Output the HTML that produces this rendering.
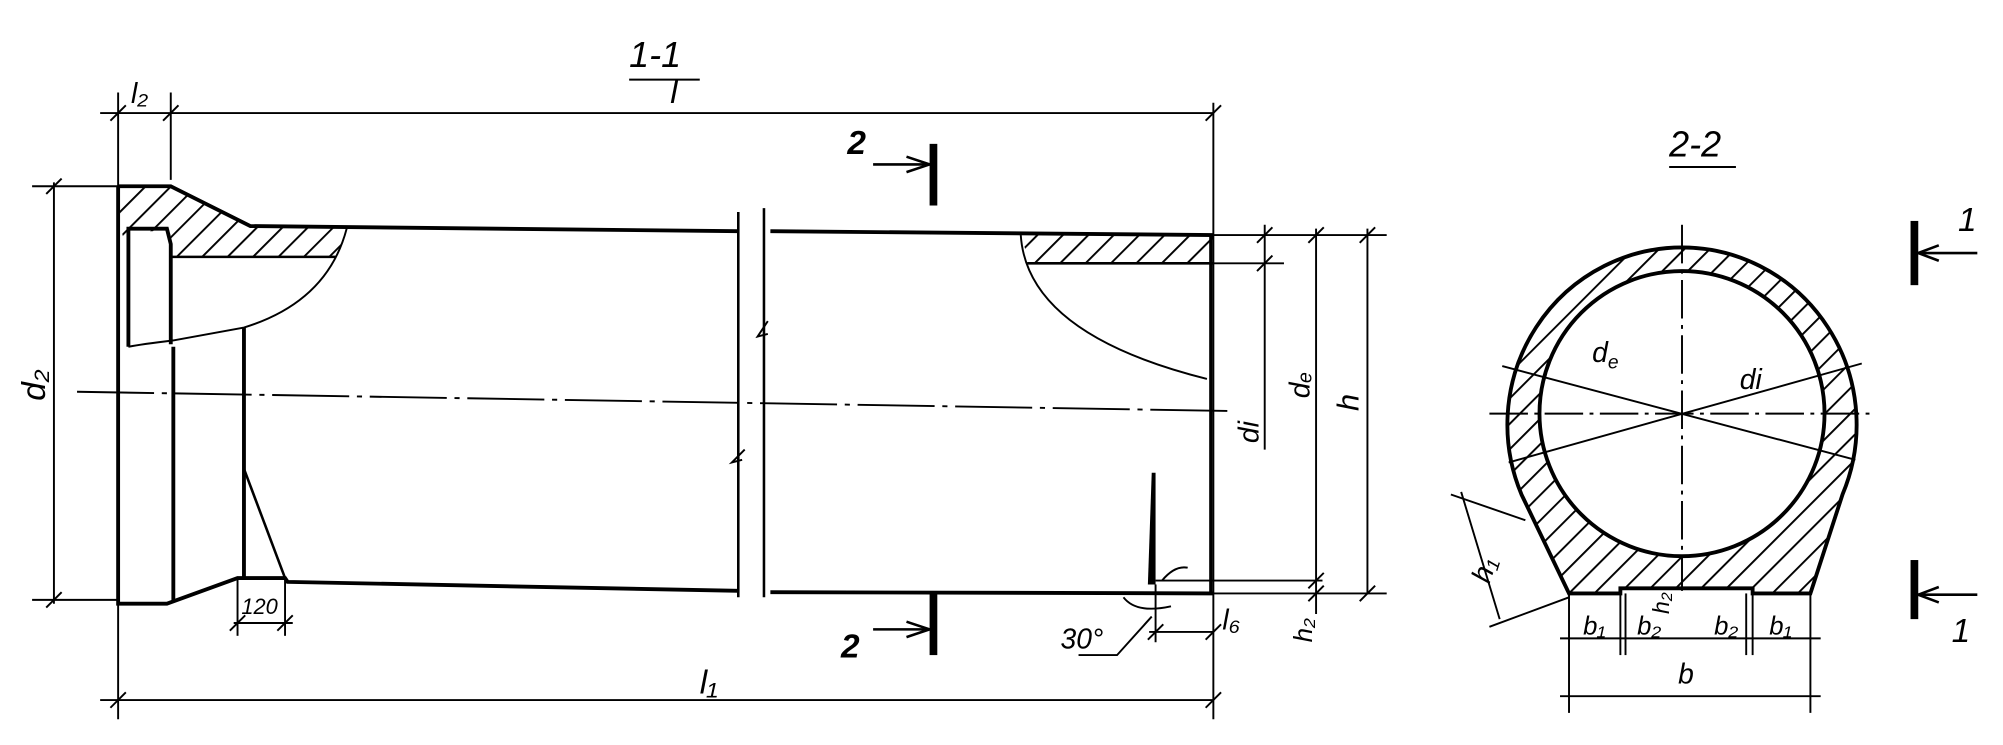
<!DOCTYPE html>
<html><head><meta charset="utf-8"><style>
html,body{margin:0;padding:0;background:#fff;width:2003px;height:745px;overflow:hidden}
svg{display:block}
text{font-family:"Liberation Sans",sans-serif;font-style:italic;fill:#000}
</style></head><body>
<svg width="2003" height="745" viewBox="0 0 1560 580" preserveAspectRatio="none" xmlns="http://www.w3.org/2000/svg">
<defs>
<pattern id="h" patternUnits="userSpaceOnUse" width="14" height="14" patternTransform="rotate(45)">
<line x1="0" y1="0" x2="0" y2="14" stroke="#000" stroke-width="3"/>
</pattern>
</defs>
<g stroke="#000" fill="none" stroke-width="1.5">
<line x1="490" y1="62" x2="545" y2="62"/>
<line x1="78" y1="88" x2="945" y2="88"/>
<line x1="92" y1="72" x2="92" y2="560"/>
<line x1="133" y1="72" x2="133" y2="140"/>
<line x1="945" y1="80" x2="945" y2="560"/>
<line x1="78" y1="545" x2="945" y2="545"/>
<line x1="42" y1="142" x2="42" y2="470"/>
<line x1="25" y1="145" x2="92" y2="145"/>
<line x1="25" y1="467" x2="92" y2="467"/>
<line x1="60" y1="305" x2="960" y2="320" stroke-dasharray="60,6,4,6"/>
</g>
<path d="M92,145 L133,145 L195,176 L270,178 L262,200 L133,200 L133,180 L100,180 L100,200 L92,170Z" fill="url(#h)" stroke="none"/>
<g stroke="#000" fill="none" stroke-width="3">
<path d="M92,145 L133,145 L195,176 L575,180"/>
<path d="M600,180 L945,183"/>
<path d="M92,145 L92,470 L130,470 L185,450 L222,450 L224,453 L575,460"/>
<path d="M600,461 L945,462"/>
<path d="M100,270 L100,178 L130,178 L133,190 L133,268"/>
<line x1="135" y1="270" x2="135" y2="468"/>
<line x1="190" y1="255" x2="190" y2="450"/>
<line x1="190" y1="365" x2="222" y2="450" stroke-width="2"/>
<line x1="133" y1="200" x2="262" y2="200" stroke-width="2"/>
<path d="M270,178 Q255,235 190,255 L135,265 Q110,268 100,270" stroke-width="1.5"/>
<path d="M575,165 L575,465" stroke-width="2"/>
<path d="M595,162 L595,465" stroke-width="2"/>
<path d="M598,250 L590,262 L598,260" stroke-width="1.5"/>
<path d="M580,350 L570,360 L578,358" stroke-width="1.5"/>
<line x1="943" y1="183" x2="943" y2="462" stroke-width="2.5"/>
<line x1="800" y1="205" x2="945" y2="205" stroke-width="2"/>
<path d="M795,183 Q800,260 940,295" stroke-width="1.5"/>
</g>
<path d="M795,183 L945,183 L945,205 L802,205Z" fill="url(#h)"/>
<g stroke="#000" fill="none" stroke-width="1.5">
<line x1="945" y1="183" x2="1080" y2="183"/>
<line x1="945" y1="205" x2="1000" y2="205"/>
<line x1="985" y1="175" x2="985" y2="350"/>
<line x1="1025" y1="178" x2="1025" y2="478"/>
<line x1="1065" y1="178" x2="1065" y2="462"/>
<line x1="900" y1="452" x2="1030" y2="452"/>
<line x1="945" y1="462" x2="1080" y2="462"/>
<line x1="900" y1="455" x2="900" y2="500"/>
<line x1="895" y1="492" x2="945" y2="492"/>
<path d="M840,510 L870,510 L897,480"/>
<path d="M875,465 Q885,478 912,472"/>
<path d="M905,452 Q915,440 925,442"/>
<line x1="185" y1="450" x2="185" y2="495"/>
<line x1="222" y1="450" x2="222" y2="495"/>
<line x1="182" y1="485" x2="228" y2="485"/>
</g>
<path d="M897,368 L900,368 L900,455 L894,455Z" fill="#000"/>
<g fill="#000">
<rect x="724" y="112" width="6" height="48"/>
<rect x="724" y="462" width="6" height="48"/>
<rect x="1488" y="172" width="6" height="50"/>
<rect x="1488" y="436" width="6" height="46"/>
</g>
<g stroke="#000" stroke-width="2" fill="none">
<line x1="680" y1="128" x2="724" y2="128"/><path d="M706,122 L724,128 L706,134"/>
<line x1="680" y1="490" x2="724" y2="490"/><path d="M706,484 L724,490 L706,496"/>
<line x1="1540" y1="197" x2="1494" y2="197"/><path d="M1510,191 L1494,197 L1510,203"/>
<line x1="1540" y1="463" x2="1494" y2="463"/><path d="M1510,457 L1494,463 L1510,469"/>
</g>
<g stroke="#000" stroke-width="1.5">
<line x1="86" y1="94" x2="98" y2="82"/><line x1="127" y1="94" x2="139" y2="82"/><line x1="939" y1="94" x2="951" y2="82"/>
<line x1="86" y1="551" x2="98" y2="539"/><line x1="939" y1="551" x2="951" y2="539"/>
<line x1="36" y1="151" x2="48" y2="139"/><line x1="36" y1="473" x2="48" y2="461"/>
<line x1="979" y1="189" x2="991" y2="177"/><line x1="979" y1="211" x2="991" y2="199"/>
<line x1="1019" y1="189" x2="1031" y2="177"/><line x1="1019" y1="458" x2="1031" y2="446"/><line x1="1019" y1="468" x2="1031" y2="456"/>
<line x1="1059" y1="189" x2="1071" y2="177"/><line x1="1059" y1="468" x2="1071" y2="456"/>
<line x1="179" y1="491" x2="191" y2="479"/><line x1="216" y1="491" x2="228" y2="479"/>
<line x1="894" y1="498" x2="906" y2="486"/><line x1="939" y1="498" x2="951" y2="486"/>
</g>
<!-- section 2-2 -->
<path fill-rule="evenodd" fill="url(#h)" stroke="#000" stroke-width="3"
 d="M1222,462 L1262,462 L1262,458 L1365,458 L1365,462 L1410,462 L1435,385 A136,138 0 1 0 1185,385 Z
    M1421,322 A111,111 0 1 0 1199,322 A111,111 0 1 0 1421,322 Z"/>
<g stroke="#000" fill="none" stroke-width="1.5">
<line x1="1300" y1="130" x2="1352" y2="130"/>
<line x1="1310" y1="175" x2="1310" y2="460" stroke-dasharray="30,5,3,5"/>
<line x1="1160" y1="322" x2="1460" y2="322" stroke-dasharray="30,5,3,5"/>
<line x1="1170" y1="285" x2="1445" y2="358"/>
<line x1="1175" y1="360" x2="1450" y2="283"/>
<line x1="1222" y1="462" x2="1222" y2="555"/>
<line x1="1410" y1="462" x2="1410" y2="555"/>
<line x1="1262" y1="462" x2="1262" y2="510"/><line x1="1266" y1="462" x2="1266" y2="510"/>
<line x1="1360" y1="462" x2="1360" y2="510"/><line x1="1365" y1="462" x2="1365" y2="510"/>
<line x1="1215" y1="497" x2="1418" y2="497"/>
<line x1="1215" y1="542" x2="1418" y2="542"/>
<line x1="1130" y1="385" x2="1188" y2="405"/>
<line x1="1160" y1="488" x2="1222" y2="465"/>
<line x1="1138" y1="383" x2="1168" y2="482"/>
</g>
<g font-size="26">
<text x="490" y="52" font-size="28">1-1</text>
<text x="1300" y="122" font-size="28">2-2</text>
<text x="102" y="80" font-size="22">l₂</text>
<text x="522" y="80">l</text>
<text x="545" y="540">l₁</text>
<text x="660" y="120" font-weight="bold">2</text>
<text x="655" y="512" font-weight="bold">2</text>
<text x="1525" y="180">1</text>
<text x="1520" y="500">1</text>
<text x="188" y="478" font-size="17" font-style="normal">120</text>
<text x="826" y="505" font-size="22">30°</text>
<text x="952" y="490" font-size="22">l₆</text>
<text x="1240" y="282" font-size="22">d<tspan font-size="15" dy="5">e</tspan></text>
<text x="1355" y="303" font-size="22">di</text>
<text x="1233" y="494" font-size="20">b₁</text>
<text x="1275" y="494" font-size="20">b₂</text>
<text x="1335" y="494" font-size="20">b₂</text>
<text x="1378" y="494" font-size="20">b₁</text>
<text x="1307" y="532" font-size="22">b</text>
<text transform="translate(35,312) rotate(-90)">d₂</text>
<text transform="translate(980,345) rotate(-90)" font-size="22">di</text>
<text transform="translate(1020,310) rotate(-90)" font-size="22">dₑ</text>
<text transform="translate(1058,320) rotate(-90)" font-size="24">h</text>
<text transform="translate(1022,500) rotate(-90)" font-size="20">h₂</text>
<text transform="translate(1300,478) rotate(-90)" font-size="18">h₂</text>
<text transform="translate(1160,455) rotate(-72)" font-size="22">h₁</text>
</g>
</svg>
</body></html>
